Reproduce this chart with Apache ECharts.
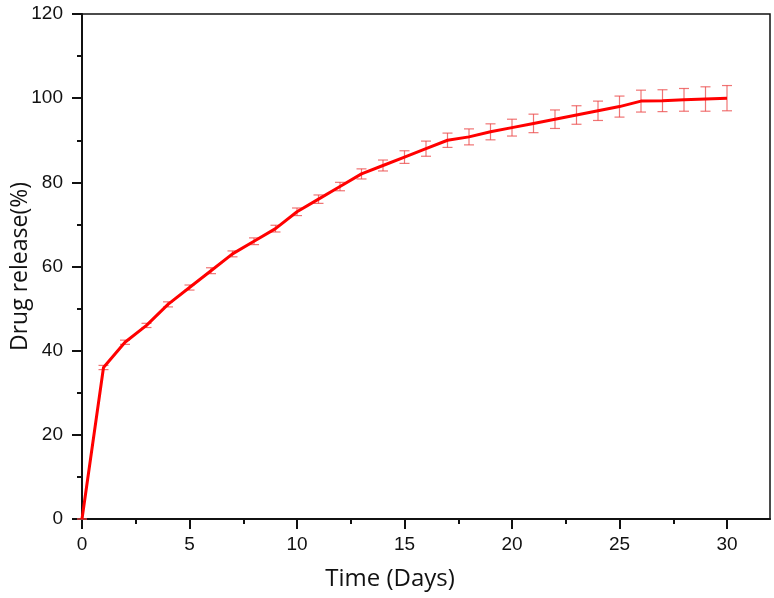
<!DOCTYPE html>
<html>
<head>
<meta charset="utf-8">
<script src="https://cdn.jsdelivr.net/npm/echarts@6/dist/echarts.min.js"></script>
<style>html,body{margin:0;padding:0;background:#fff}#c{width:774px;height:598px}</style>
</head>
<body>
<div id="c"></div>
<script>
const days = [0,1,2,3,4,5,6,7,8,9,10,11,12,13,14,15,16,17,18,19,20,21,22,23,24,25,26,27,28,29,30];
const release = [0,36,42,46,51,55,59,63,66,69,73,76,79,82,84,86,88,90,90.8,92,93,94,95,96,97,98,99.3,99.4,99.6,99.8,100];
const errors = [0,0.5,0.5,0.5,0.6,0.6,0.7,0.7,0.8,0.8,0.9,1.0,1.0,1.2,1.3,1.5,1.8,1.7,1.9,1.9,2.0,2.2,2.2,2.2,2.3,2.5,2.6,2.6,2.7,2.9,3.0];
const xMajorTicks = [0,5,10,15,20,25,30];
const xMinorTicks = [2.5,7.5,12.5,17.5,22.5,27.5];
const xTitle = 'Time (Days)';
const yTitle = 'Drug release(%)';

const lineData = days.map((d,i)=>[d, release[i]]);
const errData = days.map((d,i)=>[d, release[i]-errors[i], release[i]+errors[i]]);

const chart = echarts.init(document.getElementById('c'));
const labelFont = {fontFamily:'Liberation Sans', fontSize:19, color:'#111'};
chart.setOption({
  animation:false,
  grid:{left:82, top:14, right:4, bottom:79, outerBoundsMode:'none', containLabel:false, show:true, borderColor:'#111', borderWidth:1.5},
  xAxis:[{
    type:'value', min:0, max:32,
    axisLine:{show:true, onZero:false, lineStyle:{color:'#111', width:2}},
    axisTick:{show:true, inside:false, length:10, lineStyle:{color:'#111', width:2}, customValues:xMajorTicks},
    axisLabel:Object.assign({margin:16, customValues:xMajorTicks}, labelFont),
    splitLine:{show:false},
    name:xTitle, nameLocation:'middle', nameGap:48, nameMoveOverlap:false,
    nameTextStyle:{fontFamily:'Open Sans', fontSize:24, color:'#111', padding:[0,72,0,0]}
  },{
    type:'value', min:0, max:32, position:'bottom',
    axisLine:{show:false},
    axisTick:{show:true, inside:false, length:5, lineStyle:{color:'#111', width:2}, customValues:xMinorTicks},
    axisLabel:{show:false},
    splitLine:{show:false}
  }],
  yAxis:{
    type:'value', min:0, max:120, interval:20,
    axisLine:{show:true, onZero:false, lineStyle:{color:'#111', width:2}},
    axisTick:{show:true, inside:false, length:10, lineStyle:{color:'#111', width:2}},
    minorTick:{show:true, splitNumber:2, length:5, lineStyle:{color:'#111', width:2}},
    axisLabel:Object.assign({margin:19}, labelFont),
    splitLine:{show:false},
    name:yTitle, nameLocation:'middle', nameGap:50, nameMoveOverlap:false,
    nameTextStyle:{fontFamily:'Open Sans', fontSize:23, color:'#111'}
  },
  series:[{
    type:'custom',
    data:errData,
    z:2,
    renderItem:function(params, api){
      const x = api.value(0);
      const lo = api.coord([x, api.value(1)]);
      const hi = api.coord([x, api.value(2)]);
      const hw = 5;
      const style = {stroke:'rgba(235,70,70,0.75)', lineWidth:1.2};
      return {type:'group', children:[
        {type:'line', shape:{x1:lo[0], y1:lo[1], x2:hi[0], y2:hi[1]}, style:style},
        {type:'line', shape:{x1:lo[0]-hw, y1:lo[1], x2:lo[0]+hw, y2:lo[1]}, style:style},
        {type:'line', shape:{x1:hi[0]-hw, y1:hi[1], x2:hi[0]+hw, y2:hi[1]}, style:style}
      ]};
    }
  },{
    type:'line',
    data:lineData,
    z:3,
    showSymbol:false,
    symbol:'none',
    lineStyle:{color:'#ff0000', width:3},
    itemStyle:{color:'#ff0000'}
  }]
});
</script>
</body>
</html>
